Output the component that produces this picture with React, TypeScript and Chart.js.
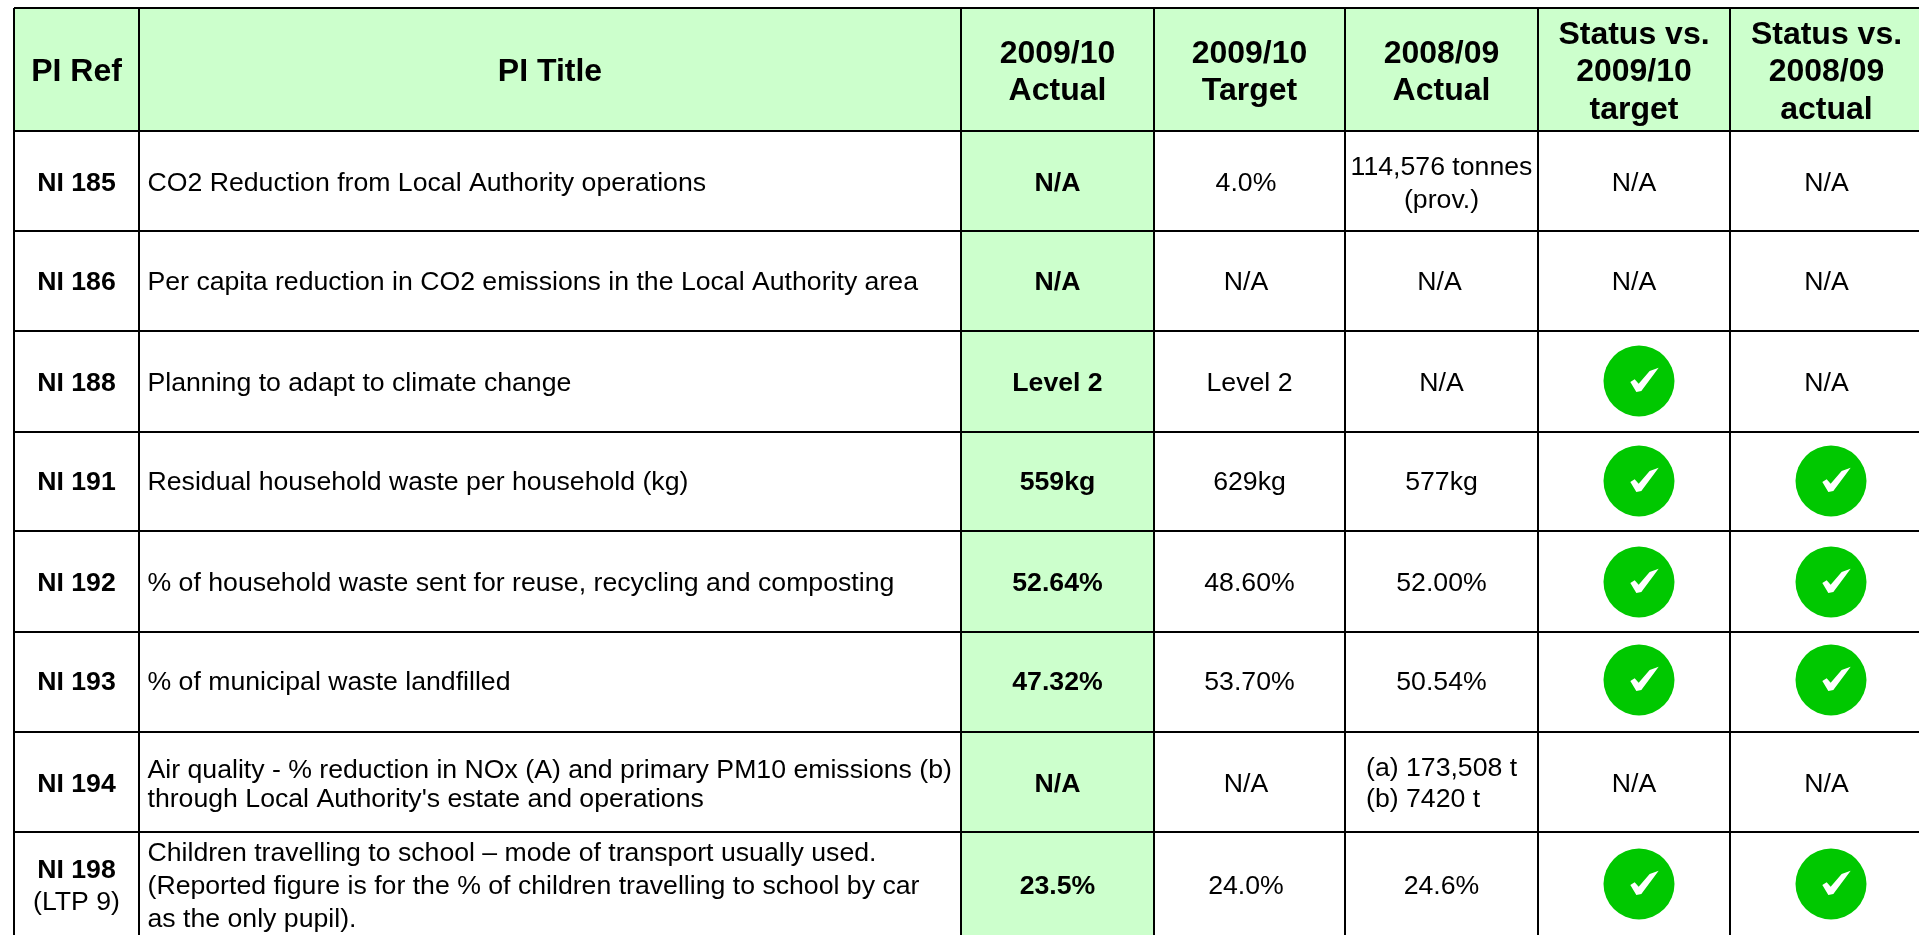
import React, { useEffect, useRef } from "react";
import { Chart, registerables } from "chart.js";

Chart.register(...registerables);

// ---------- data ----------
const columnHeaders = [
  ["PI Ref"],
  ["PI Title"],
  ["2009/10", "Actual"],
  ["2009/10", "Target"],
  ["2008/09", "Actual"],
  ["Status vs.", "2009/10", "target"],
  ["Status vs.", "2008/09", "actual"],
];
const piRefs = ["NI 185", "NI 186", "NI 188", "NI 191", "NI 192", "NI 193", "NI 194", "NI 198"];
const piSubRefs = ["", "", "", "", "", "", "", "(LTP 9)"];
const piTitles = [
  ["CO2 Reduction from Local Authority operations"],
  ["Per capita reduction in CO2 emissions in the Local Authority area"],
  ["Planning to adapt to climate change"],
  ["Residual household waste per household (kg)"],
  ["% of household waste sent for reuse, recycling and composting"],
  ["% of municipal waste landfilled"],
  ["Air quality - % reduction in NOx (A) and primary PM10 emissions (b)", "through Local Authority's estate and operations"],
  ["Children travelling to school – mode of transport usually used.", "(Reported figure is for the % of children travelling to school by car", "as the only pupil)."],
];
const actual0910 = ["N/A", "N/A", "Level 2", "559kg", "52.64%", "47.32%", "N/A", "23.5%"];
const target0910 = ["4.0%", "N/A", "Level 2", "629kg", "48.60%", "53.70%", "N/A", "24.0%"];
const actual0809 = [["114,576 tonnes", "(prov.)"], ["N/A"], ["N/A"], ["577kg"], ["52.00%"], ["50.54%"], ["(a) 173,508 t", "(b) 7420 t"], ["24.6%"]];
const statusVsTarget = ["N/A", "N/A", "pass", "pass", "pass", "pass", "N/A", "pass"];
const statusVsActual = ["N/A", "N/A", "N/A", "pass", "pass", "pass", "N/A", "pass"];

// ---------- layout (axis units are canvas pixels) ----------
const W = 1919;
const H = 935;
const LEFT = 14;
const TOP = 8;
const columnEdges = [14, 139, 961, 1154, 1345, 1538, 1730, 1923];
const rowEdges = [8, 131, 231, 331, 432, 531, 632, 732, 832, 936];
const textRowY = [184, 283, 383.5, 483, 584, 683, 785, 887];
const iconRowY = [181, 281, 381, 481, 582, 680, 782, 884];
const targetShiftX = [-3.5, -3.5, 0, 0, 0, 0, -3.5, -3.5];
const prevActualShiftX = [0, -2, 0, 0, 0, 0, 0, 0];
const statusCentres = [1639, 1831];
const SANS = '"Liberation Sans", Arial, sans-serif';
const HEADER_FILL = "#CCFFCC";
const TICK_GREEN = "#00C800";

const colMid = (c: number) => (columnEdges[c] + columnEdges[c + 1]) / 2;

function makeTick(): HTMLCanvasElement {
  const c = document.createElement("canvas");
  c.width = 40;
  c.height = 40;
  const g = c.getContext("2d")!;
  const pts = [[122, 138], [135, 130], [147, 143], [180, 105], [207, 95], [155, 165], [140, 168]];
  g.fillStyle = "#fff";
  g.beginPath();
  pts.forEach(([x, y], i) => {
    const px = 20 + (x - 148) / 3;
    const py = 20 + (y - 135) / 3;
    if (i) g.lineTo(px, py);
    else g.moveTo(px, py);
  });
  g.closePath();
  g.fill();
  return c;
}

const tablePlugin = {
  id: "tablePlugin",
  beforeDatasetsDraw(chart: any) {
    const { ctx, scales } = chart;
    const { x, y } = scales;
    ctx.save();
    ctx.fillStyle = HEADER_FILL;
    // header band
    ctx.fillRect(x.getPixelForValue(columnEdges[0]), y.getPixelForValue(rowEdges[0]),
      x.getPixelForValue(W) - x.getPixelForValue(columnEdges[0]),
      y.getPixelForValue(rowEdges[1]) - y.getPixelForValue(rowEdges[0]));
    // "2009/10 Actual" column
    ctx.fillRect(x.getPixelForValue(columnEdges[2]), y.getPixelForValue(rowEdges[1]),
      x.getPixelForValue(columnEdges[3]) - x.getPixelForValue(columnEdges[2]),
      y.getPixelForValue(H) - y.getPixelForValue(rowEdges[1]));
    ctx.restore();
  },
  afterDraw(chart: any) {
    const { ctx, scales } = chart;
    const { x, y } = scales;
    const put = (lines: string[], cx: number, cy: number, font: string, lh: number, align: CanvasTextAlign = "center") => {
      ctx.font = font;
      ctx.fillStyle = "#000";
      ctx.textAlign = align;
      ctx.textBaseline = "middle";
      lines.forEach((l, i) => {
        ctx.fillText(l, x.getPixelForValue(cx), y.getPixelForValue(cy + (i - (lines.length - 1) / 2) * lh));
      });
    };
    ctx.save();
    const headFont = `bold 32px ${SANS}`;
    const bodyFont = `26.67px ${SANS}`;
    const boldFont = `bold 26.67px ${SANS}`;
    columnHeaders.forEach((h, c) => put(h, colMid(c), (rowEdges[0] + rowEdges[1]) / 2 + 3, headFont, 37.5));
    piRefs.forEach((r, i) => {
      if (piSubRefs[i]) {
        put([r], colMid(0), textRowY[i] - 16, boldFont, 32);
        put([piSubRefs[i]], colMid(0), textRowY[i] + 16, bodyFont, 32);
      } else put([r], colMid(0), textRowY[i], boldFont, 32);
    });
    piTitles.forEach((t, i) => put(t, 147.5, textRowY[i], bodyFont, t.length === 3 ? 33 : 29, "left"));
    actual0910.forEach((v, i) => put([v], colMid(2), textRowY[i], boldFont, 32));
    target0910.forEach((v, i) => put([v], colMid(3) + targetShiftX[i], textRowY[i], bodyFont, 32));
    actual0809.forEach((v, i) => {
      if (v[0].startsWith("(a)")) put(v, 1366, textRowY[i] - 1, bodyFont, 31, "left");
      else put(v, colMid(4) + prevActualShiftX[i], textRowY[i], bodyFont, 33);
    });
    statusVsTarget.forEach((v, i) => { if (v !== "pass") put([v], colMid(5), textRowY[i], bodyFont, 32); });
    statusVsActual.forEach((v, i) => { if (v !== "pass") put([v], colMid(6), textRowY[i], bodyFont, 32); });
    ctx.restore();
  },
};

function statusPoints() {
  const pts: { x: number; y: number }[] = [];
  [statusVsTarget, statusVsActual].forEach((series, k) =>
    series.forEach((v, i) => { if (v === "pass") pts.push({ x: statusCentres[k], y: iconRowY[i] }); })
  );
  return pts;
}

export default function App() {
  const ref = useRef<HTMLCanvasElement>(null);
  useEffect(() => {
    document.body.style.margin = "0";
    document.body.style.overflow = "hidden";
    const pts = statusPoints();
    const chart = new Chart(ref.current!, {
      type: "scatter",
      data: {
        datasets: [
          { label: "Status tick", data: pts, pointStyle: makeTick() as any, pointRadius: 20, order: 1 },
          { label: "Status", data: pts, pointStyle: "circle", pointRadius: 35.5, backgroundColor: TICK_GREEN, borderWidth: 0, order: 2 },
        ],
      },
      options: {
        animation: false,
        responsive: false,
        events: [],
        layout: { padding: { left: LEFT, top: TOP, right: 0, bottom: 0 }, autoPadding: false },
        plugins: { legend: { display: false }, title: { display: false }, tooltip: { enabled: false } },
        scales: {
          x: {
            type: "linear", min: LEFT, max: W,
            afterBuildTicks: (s: any) => { s.ticks = columnEdges.filter((v) => v <= W).map((value) => ({ value })); },
            ticks: { display: false },
            border: { display: false },
            grid: { color: "#000", lineWidth: 2, drawTicks: false, z: 1 },
          },
          y: {
            type: "linear", min: TOP, max: H, reverse: true,
            afterBuildTicks: (s: any) => { s.ticks = rowEdges.filter((v) => v <= H).map((value) => ({ value })); },
            ticks: { display: false },
            border: { display: false },
            grid: { color: "#000", lineWidth: 2, drawTicks: false, z: 1 },
          },
        },
      },
      plugins: [tablePlugin],
    } as any);
    return () => chart.destroy();
  }, []);
  return <canvas ref={ref} width={W} height={H} style={{ display: "block", width: W, height: H }} />;
}
